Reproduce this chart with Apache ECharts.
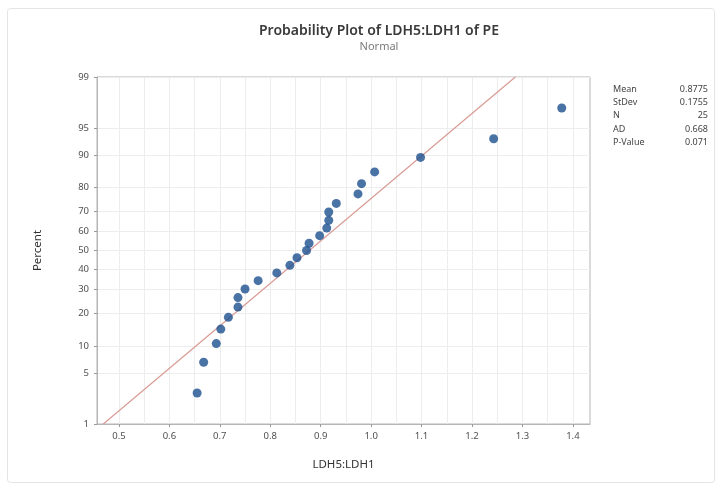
<!DOCTYPE html>
<html>
<head>
<meta charset="utf-8">
<script src="https://cdn.jsdelivr.net/npm/echarts@6/dist/echarts.min.js"></script>
<style>
html,body{margin:0;padding:0;background:#fff;}
#chart{width:718px;height:485px;}
</style>
</head>
<body>
<div id="chart"></div>
<script>
// ---- data ----
var ratioValues = [0.655, 0.668, 0.693, 0.702, 0.717, 0.736, 0.736, 0.750, 0.776, 0.813,
                   0.839, 0.853, 0.872, 0.877, 0.898, 0.912, 0.916, 0.916, 0.931, 0.974,
                   0.981, 1.007, 1.098, 1.243, 1.378];
var percentValues = [2.8, 6.7, 10.6, 14.6, 18.5, 22.4, 26.4, 30.3, 34.3, 38.2,
                     42.1, 46.1, 50.0, 53.9, 57.9, 61.8, 65.7, 69.7, 73.6, 77.6,
                     81.5, 85.4, 89.4, 93.3, 97.2];
var fitLineX = [0.469, 1.286];
var fitLinePercent = [1, 99];
var percentTicks = [1, 5, 10, 20, 30, 40, 50, 60, 70, 80, 90, 95, 99];
var xLabelTicks = [0.5, 0.6, 0.7, 0.8, 0.9, 1.0, 1.1, 1.2, 1.3, 1.4];
var xGridTicks = [0.5, 0.55, 0.6, 0.65, 0.7, 0.75, 0.8, 0.85, 0.9, 0.95, 1.0, 1.05, 1.1, 1.15, 1.2, 1.25, 1.3, 1.35, 1.4];
var statNames = ['Mean', 'StDev', 'N', 'AD', 'P-Value'];
var statValues = ['0.8775', '0.1755', '25', '0.668', '0.071'];

// inverse normal CDF (probability-scale transform)
function probit(p) {
  var a = [-3.969683028665376e+01, 2.209460984245205e+02, -2.759285104469687e+02, 1.383577518672690e+02, -3.066479806614716e+01, 2.506628277459239e+00];
  var b = [-5.447609879822406e+01, 1.615858368580409e+02, -1.556989798598866e+02, 6.680131188771972e+01, -1.328068155288572e+01];
  var c = [-7.784894002430293e-03, -3.223964580411365e-01, -2.400758277161838e+00, -2.549732539343734e+00, 4.374664141464968e+00, 2.938163982698783e+00];
  var d = [7.784695709041462e-03, 3.224671290700398e-01, 2.445134137142996e+00, 3.754408661907416e+00];
  var pl = 0.02425, q, r;
  if (p < pl) {
    q = Math.sqrt(-2 * Math.log(p));
    return (((((c[0]*q+c[1])*q+c[2])*q+c[3])*q+c[4])*q+c[5]) / ((((d[0]*q+d[1])*q+d[2])*q+d[3])*q+1);
  } else if (p <= 1 - pl) {
    q = p - 0.5; r = q * q;
    return (((((a[0]*r+a[1])*r+a[2])*r+a[3])*r+a[4])*r+a[5])*q / (((((b[0]*r+b[1])*r+b[2])*r+b[3])*r+b[4])*r+1);
  } else {
    q = Math.sqrt(-2 * Math.log(1 - p));
    return -(((((c[0]*q+c[1])*q+c[2])*q+c[3])*q+c[4])*q+c[5]) / ((((d[0]*q+d[1])*q+d[2])*q+d[3])*q+1);
  }
}
function pz(pct) { return probit(pct / 100); }

var zTicks = percentTicks.map(pz);
var zMin = pz(1), zMax = pz(99);

var pointData = ratioValues.map(function (x, i) { return [x, pz(percentValues[i])]; });
var lineData = fitLineX.map(function (x, i) { return [x, pz(fitLinePercent[i])]; });

var FONT = '"Noto Sans", "Open Sans", sans-serif';
var chart = echarts.init(document.getElementById('chart'), null, { renderer: 'canvas' });

var statGraphics = [];
statNames.forEach(function (n, i) {
  statGraphics.push({ type: 'text', left: 613, top: 85 + i * 13.2,
    style: { text: n, fill: '#444', font: '9px ' + FONT } });
  statGraphics.push({ type: 'text', right: 10, top: 85 + i * 13.2,
    style: { text: statValues[i], fill: '#444', font: '9px ' + FONT, align: 'right' } });
});
statGraphics.push({ type: 'rect', left: 5, top: 6, shape: { width: 707, height: 474, r: 3 },
  style: { fill: 'none', stroke: '#e4e4e4', lineWidth: 1 }, silent: true, z: -10 });

chart.setOption({
  backgroundColor: '#fff',
  animation: false,
  title: [
    { text: 'Probability Plot of LDH5:LDH1 of PE', left: 374, top: 19, textAlign: 'center',
      textStyle: { fontFamily: FONT, fontSize: 14, fontWeight: 600, color: '#3a3a3a' } },
    { text: 'Normal', left: 374, top: 36, textAlign: 'center',
      textStyle: { fontFamily: FONT, fontSize: 11, fontWeight: 'normal', color: '#7a7a7a' } }
  ],
  grid: { left: 97, right: 128, top: 77, bottom: 61, show: true, borderColor: '#b5b5b5', borderWidth: 1, backgroundColor: 'transparent' },
  xAxis: [
    { type: 'value', min: 0.4565, max: 1.434, position: 'bottom',
      name: 'LDH5:LDH1', nameLocation: 'middle', nameGap: 35,
      nameTextStyle: { fontFamily: FONT, fontSize: 11.5, color: '#333' },
      axisLine: { show: true, onZero: false, lineStyle: { color: '#b5b5b5' } },
      axisTick: { show: true, length: 3, customValues: xLabelTicks, lineStyle: { color: '#999' } },
      axisLabel: { customValues: xLabelTicks, fontFamily: FONT, fontSize: 9.5, color: '#505050', margin: 7,
        formatter: function (v) { return v.toFixed(1); } },
      splitLine: { show: false }
    },
    { type: 'value', min: 0.4565, max: 1.434, position: 'bottom', show: true,
      axisLine: { show: false, onZero: false }, axisLabel: { show: false },
      axisTick: { show: false, customValues: xGridTicks },
      splitLine: { show: true, lineStyle: { color: '#ededed', width: 1 } }
    }
  ],
  yAxis: {
    type: 'value', min: zMin, max: zMax,
    name: 'Percent', nameLocation: 'middle', nameGap: 53, nameRotate: 90,
    nameTextStyle: { fontFamily: FONT, fontSize: 11.5, color: '#333' },
    axisLine: { show: true, onZero: false, lineStyle: { color: '#b5b5b5' } },
    axisTick: { show: true, length: 3, customValues: zTicks, lineStyle: { color: '#999' } },
    axisLabel: { customValues: zTicks, fontFamily: FONT, fontSize: 9.5, color: '#505050', margin: 8,
      formatter: function (v) {
        var best = 0, bd = 1e9;
        zTicks.forEach(function (z, i) { var d = Math.abs(z - v); if (d < bd) { bd = d; best = i; } });
        return String(percentTicks[best]);
      } },
    splitLine: { show: true, lineStyle: { color: '#ededed', width: 1 } }
  },
  graphic: statGraphics,
  series: [
    { type: 'line', data: lineData, xAxisIndex: 0, symbol: 'none', silent: true,
      lineStyle: { color: '#d99a94', width: 1.2 }, z: 2 },
    { type: 'scatter', data: pointData, xAxisIndex: 0, symbol: 'circle', symbolSize: 9,
      itemStyle: { color: '#1b4f8f' }, z: 3 }
  ]
});
</script>
</body>
</html>
